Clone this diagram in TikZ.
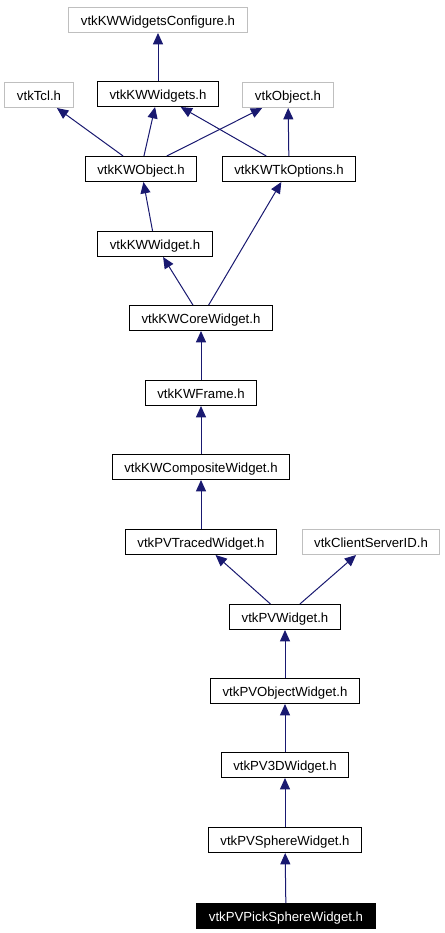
\documentclass[tikz,border=0pt]{standalone}
\usepackage{fontspec}
\setmainfont{Liberation Sans}
\usepackage{color}
\definecolor{mynavy}{RGB}{25,25,112}
\definecolor{mygray}{RGB}{191,191,191}
\usepackage{tikz}
\usetikzlibrary{arrows.meta,positioning}

\begin{document}
\begin{tikzpicture}[
  x=0.75pt,
  y=-0.75pt,
  myhdr/.style={
    draw,
    line width=0.75pt,
    rectangle,
    minimum height=18.75pt,
    inner xsep=9pt,
    inner ysep=0pt,
    text height=9pt,
    text depth=1.2pt,
    font=\fontsize{9.9}{12}\selectfont
    },
  myext/.style={myhdr, draw=mygray},
  mytop/.style={myhdr, fill=black, text=white},
  mydep/.style={
    mynavy,
    line width=0.75pt,
    -{Triangle[length=8.5pt,width=7.5pt]}
    }
]
\useasboundingbox (0,0) rectangle (445,933);

\node [myext] (configure) at (158,20) {vtkKWWidgetsConfigure.h};
\node [myext] (tcl) at (39,95) {vtkTcl.h};
\node [myhdr] (widgets) at (158,94) {vtkKWWidgets.h};
\node [myext] (object) at (288,95) {vtkObject.h};
\node [myhdr] (kwobject) at (141,169) {vtkKWObject.h};
\node [myhdr] (tkoptions) at (289,169) {vtkKWTkOptions.h};
\node [myhdr] (kwwidget) at (155,244) {vtkKWWidget.h};
\node [myhdr] (corewidget) at (201,318) {vtkKWCoreWidget.h};
\node [myhdr] (frame) at (201,393) {vtkKWFrame.h};
\node [myhdr] (composite) at (201,467) {vtkKWCompositeWidget.h};
\node [myhdr] (traced) at (201,542) {vtkPVTracedWidget.h};
\node [myext] (csid) at (371,542) {vtkClientServerID.h};
\node [myhdr] (pvwidget) at (285,617) {vtkPVWidget.h};
\node [myhdr] (objwidget) at (285,691) {vtkPVObjectWidget.h};
\node [myhdr] (threed) at (285,765) {vtkPV3DWidget.h};
\node [myhdr] (sphere) at (285,840) {vtkPVSphereWidget.h};
\node [mytop] (picksphere) at (286,916) {vtkPVPickSphereWidget.h};

\draw [mydep] (widgets) -- (configure);
\draw [mydep] (kwobject) -- (tcl);
\draw [mydep] (kwobject) -- (widgets);
\draw [mydep] (kwobject) -- (object);
\draw [mydep] (tkoptions) -- (widgets);
\draw [mydep] (tkoptions) -- (object);
\draw [mydep] (kwwidget) -- (kwobject);
\draw [mydep] (corewidget) -- (kwwidget);
\draw [mydep] (corewidget) -- (tkoptions);
\draw [mydep] (frame) -- (corewidget);
\draw [mydep] (composite) -- (frame);
\draw [mydep] (traced) -- (composite);
\draw [mydep] (pvwidget) -- (traced);
\draw [mydep] (pvwidget) -- (csid);
\draw [mydep] (objwidget) -- (pvwidget);
\draw [mydep] (threed) -- (objwidget);
\draw [mydep] (sphere) -- (threed);
\draw [mydep] (picksphere) -- (sphere);

\end{tikzpicture}
\end{document}
